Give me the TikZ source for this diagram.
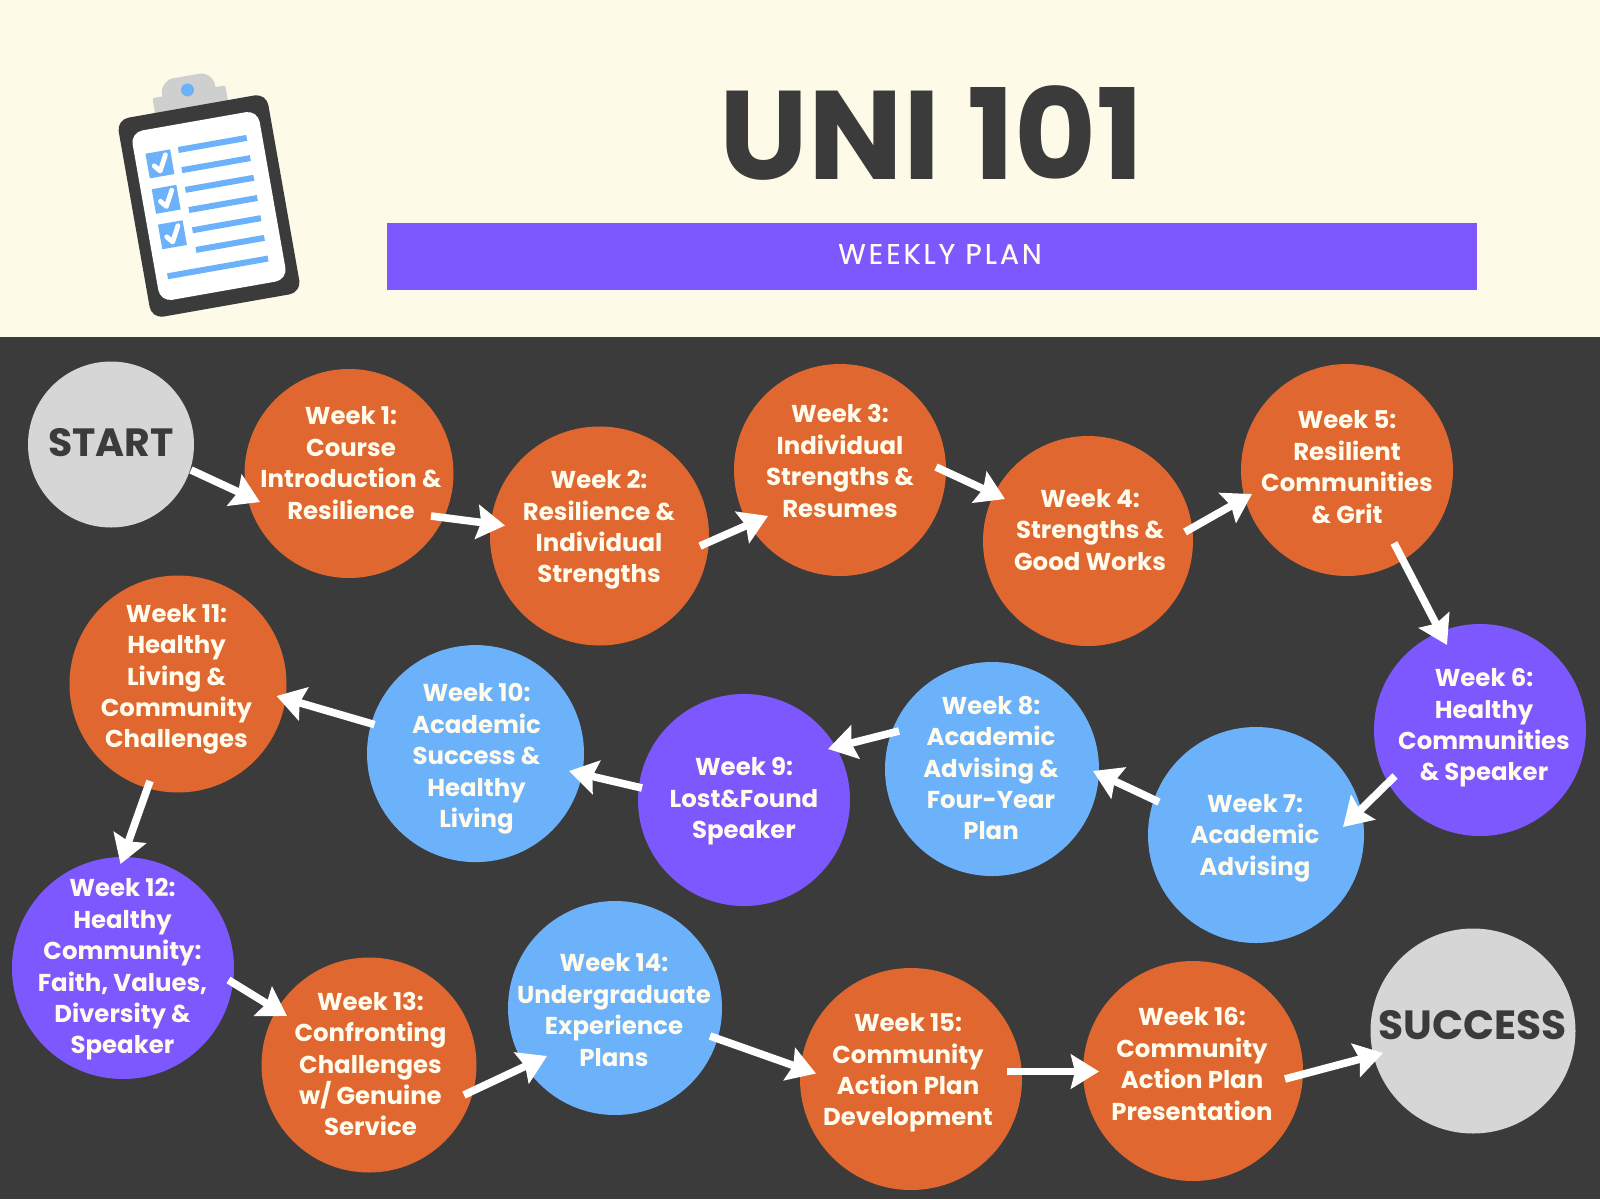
\documentclass[tikz,border=0pt]{standalone}
\usepackage{fontspec}
\setmainfont{Poppins}
\newfontfamily\spaced[LetterSpace=11,FakeBold=0.5]{Poppins}
\usetikzlibrary{calc,arrows.meta}
\definecolor{cream}{HTML}{FDFAE8}
\definecolor{dark}{HTML}{3B3B3B}
\definecolor{orangeb}{HTML}{E06830}
\definecolor{blueb}{HTML}{6CB2FB}
\definecolor{purpleb}{HTML}{7D58FF}
\definecolor{grayb}{HTML}{D6D6D6}
\definecolor{clipg}{HTML}{CFCFCF}
\definecolor{txt}{HTML}{FFFCEE}
\tikzset{
  disc/.style={circle,inner sep=0pt,minimum size=#1 pt},
  wtext/.style={text=txt,align=center,font=\fontsize{12.2}{15.7}\selectfont\bfseries,inner sep=0pt},
  flow/.style={draw=white,line width=3.8pt,-{Stealth[length=14pt,width=17pt,inset=2pt]}},
  cline/.style={draw=blueb,line width=3pt},
  ctick/.style={draw=white,line width=2.4pt,line cap=round,line join=round},
}
\newcommand{\wk}[8]{%
  \node[disc=#4,fill=#5] (#1) at (#2,#3) {};
  \node[wtext] (#1t) at (#6,#7) {#8};
}
\newcommand{\flowarrow}[6]{\draw[flow] ($(#1)+(#2,#3)$) -- ($(#4)+(#5,#6)$);}
\newcommand{\chk}[1]{%
  \fill[blueb] (-53.5,#1-12.5) rectangle (-28.5,#1+12.5);
  \draw[ctick] (-47,#1+1) -- (-42,#1+7) -- (-34,#1-8);
}
\begin{document}
\begin{tikzpicture}[x=0.5pt,y=-0.5pt]
\useasboundingbox (0,0) rectangle (1600,1199);
\fill[cream] (0,0) rectangle (1600,337);
\fill[dark] (0,337) rectangle (1600,1199);
% clipboard
\begin{scope}[shift={(209,206)},rotate=10]
  \fill[clipg,rounded corners=1pt] (-37,-116) rectangle (37,-90);
  \fill[clipg,rounded corners=7pt] (-27,-100) rectangle (27,-132);
  \fill[blueb] (-1,-118) circle[radius=6.5];
  \fill[dark,rounded corners=6pt] (-76,-101) rectangle (76,101);
  \fill[white,rounded corners=6pt] (-64.5,-86) rectangle (64.5,86);
  \foreach \yy in {-60.5,-40,-20,0.5,21,41} \draw[cline] (-20.5,\yy) -- (49,\yy);
  \draw[cline] (-53,62) -- (49,62);
  \chk{-50}\chk{-14}\chk{22}
\end{scope}
% header
\node[text=dark,font=\fontsize{63}{63}\selectfont\bfseries,inner sep=0pt] (title) at (932,133) {UNI 101};
\node[fill=purpleb,minimum width=545pt,minimum height=33.5pt,inner sep=0pt] (bar) at (932,256.5) {};
\node[text=txt,font=\fontsize{14}{14}\selectfont\spaced,inner sep=0pt] (sub) at (940,254) {WEEKLY PLAN};
% circles
\node[disc=83,fill=grayb] (start) at (111,444.5) {};
\node[text=dark,font=\fontsize{19.7}{19.7}\selectfont\bfseries,inner sep=0pt] (startt) at (111,443) {START};
\node[disc=102.5,fill=grayb] (succ) at (1473,1031) {};
\node[text=dark,font=\fontsize{20.4}{20.4}\selectfont\bfseries,inner sep=0pt] (succt) at (1472.5,1025.5) {SUCCESS};
\wk{w1}{349}{473.5}{104.5}{orangeb}{351}{463}{Week 1:\\Course\\Introduction \&\\Resilience}
\wk{w2}{599.5}{536}{109.5}{orangeb}{599}{530}{Week 2:\\Resilience \&\\Individual\\Strengths}
\wk{w3}{840}{470}{106}{orangeb}{840}{461}{Week 3:\\Individual\\Strengths \&\\Resumes}
\wk{w4}{1088}{541}{105}{orangeb}{1090}{530}{Week 4:\\Strengths \&\\Good Works}
\wk{w5}{1347}{470}{106}{orangeb}{1347}{467}{Week 5:\\Resilient\\Communities\\\& Grit}
\wk{w6}{1480}{730}{106}{purpleb}{1484}{728}{Week 6:\\Healthy\\Communities\\\& Speaker}
\wk{w7}{1256}{835}{108}{blueb}{1255}{838}{Week 7:\\Academic\\Advising}
\wk{w8}{992}{769}{107}{blueb}{991}{768}{Week 8:\\Academic\\Advising \&\\Four-Year\\Plan}
\wk{w9}{744}{800}{106}{purpleb}{744}{801.5}{Week 9:\\Lost\&Found\\Speaker}
\wk{w10}{475.5}{753.6}{108.5}{blueb}{476.5}{759}{Week 10:\\Academic\\Success \&\\Healthy\\Living}
\wk{w11}{178}{684}{108.5}{orangeb}{176.5}{679.5}{Week 11:\\Healthy\\Living \&\\Community\\Challenges}
\wk{w12}{123}{968}{111}{purpleb}{122.5}{969.5}{Week 12:\\Healthy\\Community:\\Faith, Values,\\Diversity \&\\Speaker}
\wk{w13}{369}{1065}{107.5}{orangeb}{370.5}{1064}{Week 13:\\Confronting\\Challenges\\w/ Genuine\\Service}
\wk{w14}{615}{1008}{107}{blueb}{614}{1010}{Week 14:\\Undergraduate\\Experience\\Plans}
\wk{w15}{911}{1079}{111}{orangeb}{908}{1073}{Week 15:\\Community\\Action Plan\\Development}
\wk{w16}{1193}{1071}{110}{orangeb}{1192}{1064}{Week 16:\\Community\\Action Plan\\Presentation}
% arrows
\flowarrow{start}{80}{25.5}{w1}{-89}{28.5}
\flowarrow{w1}{82}{42.5}{w2}{-94.5}{-10.5}
\flowarrow{w2}{100.5}{10}{w3}{-72}{46}
\flowarrow{w3}{96}{-3}{w4}{-83}{-42}
\flowarrow{w4}{97}{-9}{w5}{-95}{24}
\flowarrow{w5}{47}{73}{w6}{-33}{-85}
\flowarrow{w6}{-85}{46}{w7}{87}{-8}
\flowarrow{w7}{-97}{-33}{w8}{101}{2}
\flowarrow{w8}{-93}{-38}{w9}{84}{-51}
\flowarrow{w9}{-102}{-12}{w10}{93.5}{17.4}
\flowarrow{w10}{-101}{-29}{w11}{98.5}{12}
\flowarrow{w11}{-28}{97}{w12}{-2.5}{-104}
\flowarrow{w12}{105.5}{12}{w13}{-82}{-49}
\flowarrow{w13}{95}{30}{w14}{-68}{48}
\flowarrow{w14}{95}{28}{w15}{-95}{-5.5}
\flowarrow{w15}{96}{-7.5}{w16}{-94}{0.5}
\flowarrow{w16}{92}{8}{succ}{-90}{22}
\end{tikzpicture}
\end{document}
